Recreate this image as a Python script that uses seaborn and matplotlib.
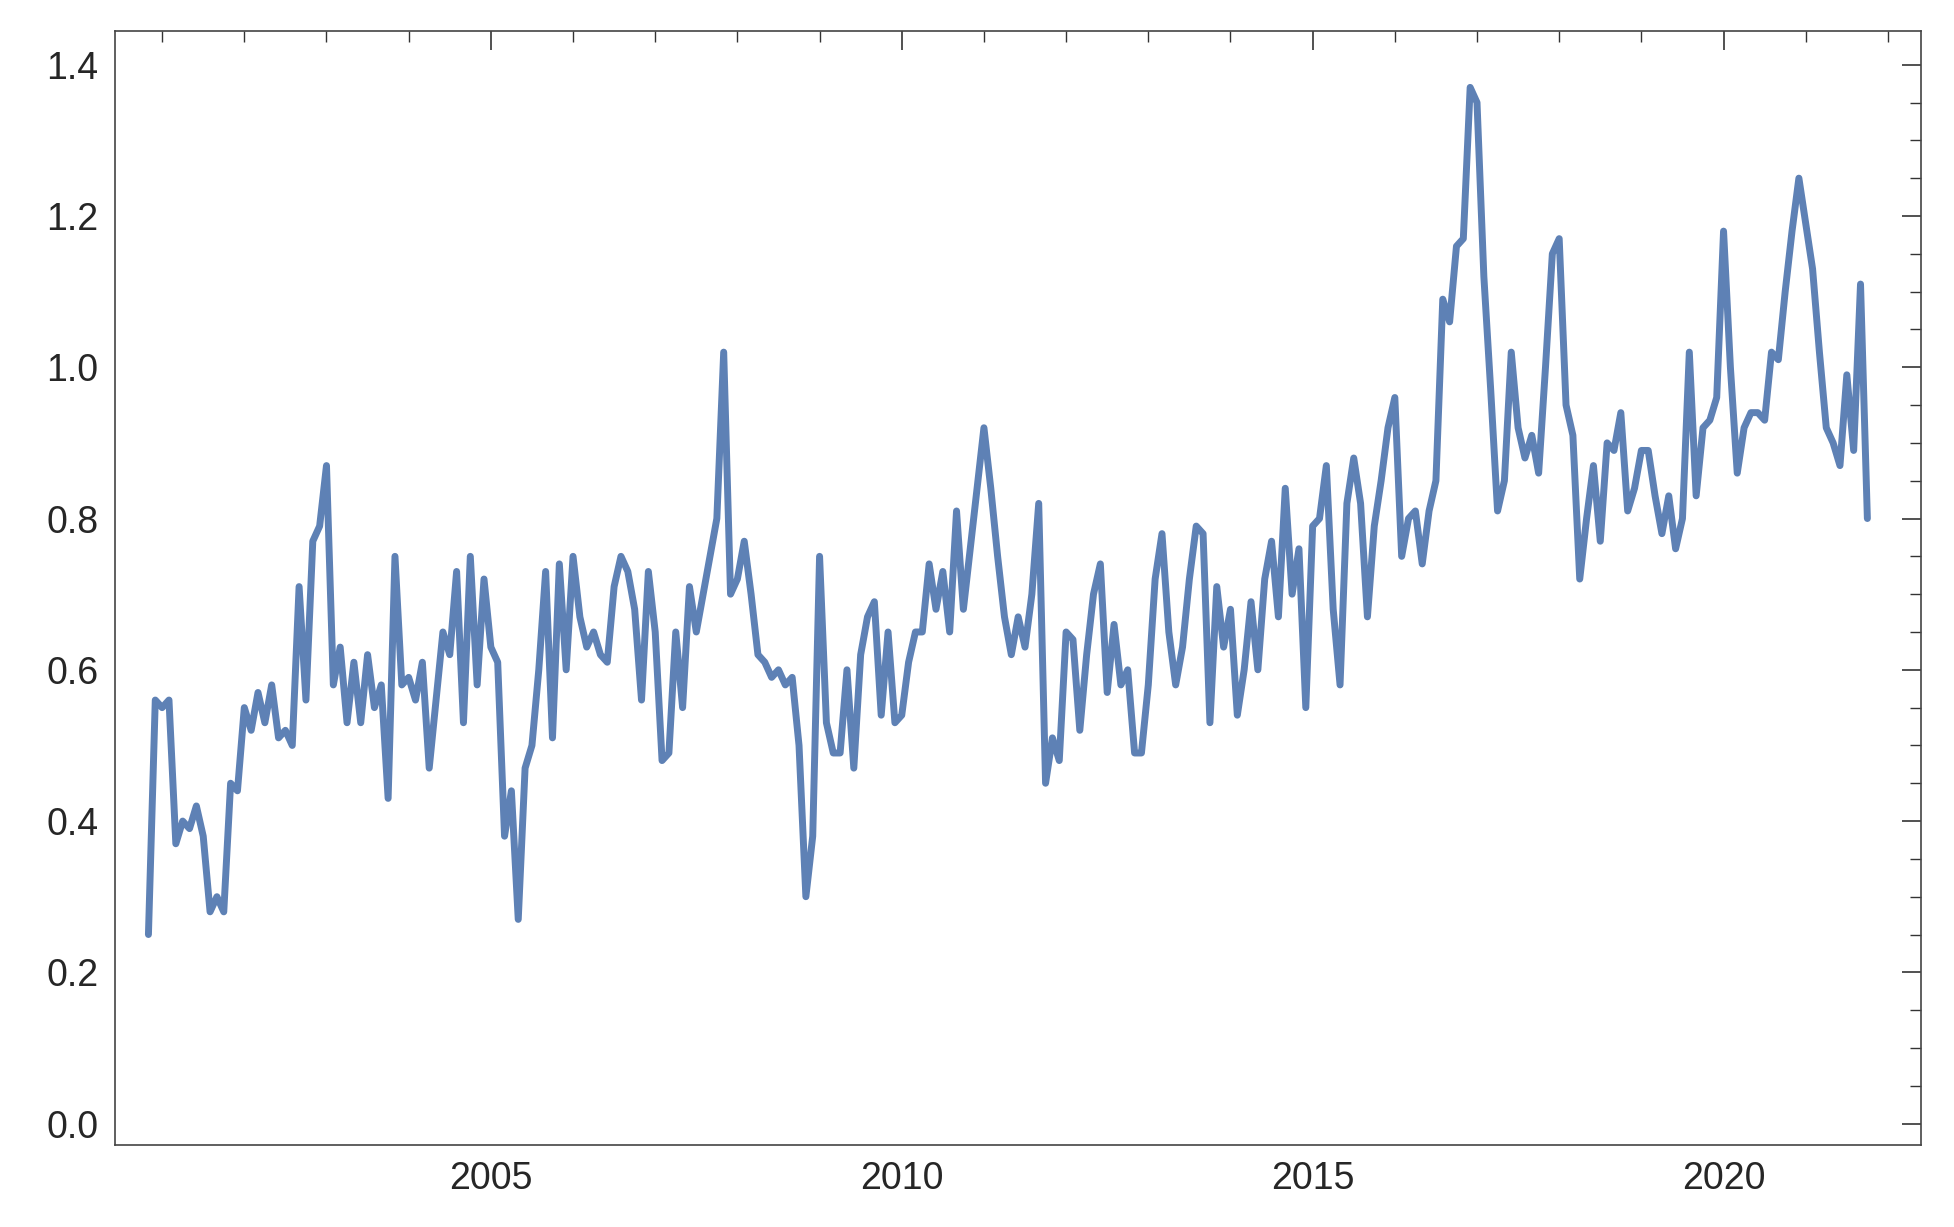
import pandas as pd
import numpy as np
import matplotlib.pyplot as plt
import seaborn as sns
from matplotlib.ticker import MultipleLocator

# monthly values, starting Nov 2000
start_month = "2000-11-01"
values = [0.25, 0.56, 0.55, 0.56, 0.37, 0.40, 0.39, 0.42, 0.38, 0.28, 0.30, 0.28,
          0.45, 0.44, 0.55, 0.52, 0.57, 0.53, 0.58, 0.51, 0.52, 0.50, 0.71, 0.56,
          0.77, 0.79, 0.87, 0.58, 0.63, 0.53, 0.61, 0.53, 0.62, 0.55, 0.58, 0.43,
          0.75, 0.58, 0.59, 0.56, 0.61, 0.47, 0.56, 0.65, 0.62, 0.73, 0.53, 0.75,
          0.58, 0.72, 0.63, 0.61, 0.38, 0.44, 0.27, 0.47, 0.50, 0.60, 0.73, 0.51,
          0.74, 0.60, 0.75, 0.67, 0.63, 0.65, 0.62, 0.61, 0.71, 0.75, 0.73, 0.68,
          0.56, 0.73, 0.65, 0.48, 0.49, 0.65, 0.55, 0.71, 0.65, 0.70, 0.75, 0.80,
          1.02, 0.70, 0.72, 0.77, 0.70, 0.62, 0.61, 0.59, 0.60, 0.58, 0.59, 0.50,
          0.30, 0.38, 0.75, 0.53, 0.49, 0.49, 0.60, 0.47, 0.62, 0.67, 0.69, 0.54,
          0.65, 0.53, 0.54, 0.61, 0.65, 0.65, 0.74, 0.68, 0.73, 0.65, 0.81, 0.68,
          0.76, 0.84, 0.92, 0.84, 0.75, 0.67, 0.62, 0.67, 0.63, 0.70, 0.82, 0.45,
          0.51, 0.48, 0.65, 0.64, 0.52, 0.62, 0.70, 0.74, 0.57, 0.66, 0.58, 0.60,
          0.49, 0.49, 0.58, 0.72, 0.78, 0.65, 0.58, 0.63, 0.72, 0.79, 0.78, 0.53,
          0.71, 0.63, 0.68, 0.54, 0.60, 0.69, 0.60, 0.72, 0.77, 0.67, 0.84, 0.70,
          0.76, 0.55, 0.79, 0.80, 0.87, 0.68, 0.58, 0.82, 0.88, 0.82, 0.67, 0.79,
          0.85, 0.92, 0.96, 0.75, 0.80, 0.81, 0.74, 0.81, 0.85, 1.09, 1.06, 1.16,
          1.17, 1.37, 1.35, 1.12, 0.97, 0.81, 0.85, 1.02, 0.92, 0.88, 0.91, 0.86,
          1.00, 1.15, 1.17, 0.95, 0.91, 0.72, 0.80, 0.87, 0.77, 0.90, 0.89, 0.94,
          0.81, 0.84, 0.89, 0.89, 0.83, 0.78, 0.83, 0.76, 0.80, 1.02, 0.83, 0.92,
          0.93, 0.96, 1.18, 1.00, 0.86, 0.92, 0.94, 0.94, 0.93, 1.02, 1.01, 1.10,
          1.18, 1.25, 1.19, 1.13, 1.02, 0.92, 0.90, 0.87, 0.99, 0.89, 1.11, 0.80]

dates = pd.date_range(start_month, periods=len(values), freq="MS")
df = pd.DataFrame({"year": dates.year + (dates.month - 1) / 12.0, "value": values})

sns.set_style("white")
plt.rcParams['font.family'] = ['Liberation Sans', 'DejaVu Sans']

fig, ax = plt.subplots(figsize=(19.54, 12.27), dpi=100)
sns.lineplot(data=df, x="year", y="value", color="#5E81B5", linewidth=5, ax=ax)

ax.set_xlim(2000.43, 2022.4)
ax.set_ylim(-0.028, 1.445)
ax.xaxis.set_major_locator(MultipleLocator(5))
ax.xaxis.set_minor_locator(MultipleLocator(1))
ax.yaxis.set_major_locator(MultipleLocator(0.2))
ax.yaxis.set_minor_locator(MultipleLocator(0.05))
ax.set_yticks(np.arange(0, 1.41, 0.2))
ax.set_yticklabels([f"{v:.1f}" for v in np.arange(0, 1.41, 0.2)])
ax.tick_params(which="both", direction="in", top=True, right=True, color="#333333")
ax.tick_params(which="major", length=14, width=1.2, labelsize=27, pad=12)
ax.tick_params(which="minor", length=8, width=1)
ax.set_xlabel("")
ax.set_ylabel("")
for s in ax.spines.values():
    s.set_color("#444444")
    s.set_linewidth(1.2)

plt.subplots_adjust(left=0.059, right=0.983, top=0.975, bottom=0.067)
fig.savefig("out.png")
